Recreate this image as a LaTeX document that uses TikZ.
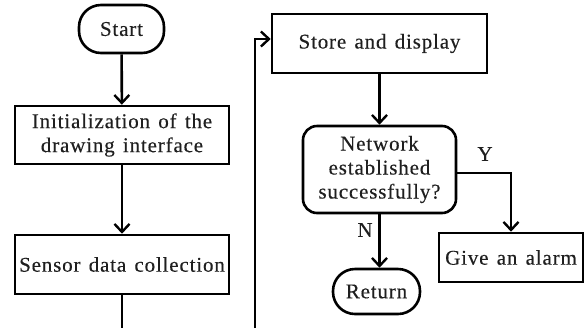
\documentclass[tikz,border=0pt]{standalone}
\usepackage{fontspec}
\setmainfont[LetterSpace=4,WordSpace=1.35,FakeBold=0.3]{Liberation Serif}
\usetikzlibrary{arrows.meta}
\begin{document}
\begin{tikzpicture}[x=1bp,y=-1bp,
  every node/.style={font=\fontsize{21bp}{24bp}\selectfont,text=black!88},
  box/.style={draw=black,line width=2.6bp,align=center,inner sep=0pt},
  terminal/.style={box,rounded corners=22bp},
  decision/.style={box,rounded corners=14bp},
  flow/.style={line width=2.6bp,-{Straight Barb[length=8bp,width=15bp,line width=2.4bp]}},
  plain/.style={line width=2.6bp},
  lbl/.style={inner sep=0pt}]
\useasboundingbox (0,0) rectangle (585,328);

% left column
\node[terminal,minimum width=85bp,minimum height=48bp] (start) at (121.5,29) {Start};
\node[box,minimum width=214bp,minimum height=58bp] (init) at (122,135) {Initialization of the\\drawing interface};
\node[box,minimum width=214bp,minimum height=59bp] (sensor) at (122,264.5) {Sensor data collection};

% right column
\node[box,minimum width=215bp,minimum height=59bp] (store) at (379.5,43.5) {Store and display};
\node[decision,minimum width=153bp,minimum height=87bp] (net) at (379.5,169.5) {Network\\established\\successfully?};
\node[box,minimum width=144bp,minimum height=49bp] (alarm) at (511,257.5) {Give an alarm};
\node[terminal,minimum width=87bp,minimum height=45bp] (ret) at (376.5,291.5) {Return};

% free ends running off the lower edge
\coordinate (sensout) at (122,328);
\coordinate (loopin) at (255,328);

% connectors
\draw[flow] (start) -- (init);
\draw[flow] (init) -- (sensor);
\draw[plain] (sensor.south) -- (sensout);
\draw[flow] (loopin) |- ([yshift=4.5bp]store.west);
\draw[flow] (store.south) -- (net.north);
\draw[flow] ([yshift=-3.5bp]net.east) -| (alarm.north);
\draw[flow] (net.south) -- (net.south |- ret.north);

% branch labels
\node[lbl] (ylab) at (485,154) {Y};
\node[lbl] (nlab) at (365,230) {N};
\end{tikzpicture}
\end{document}
